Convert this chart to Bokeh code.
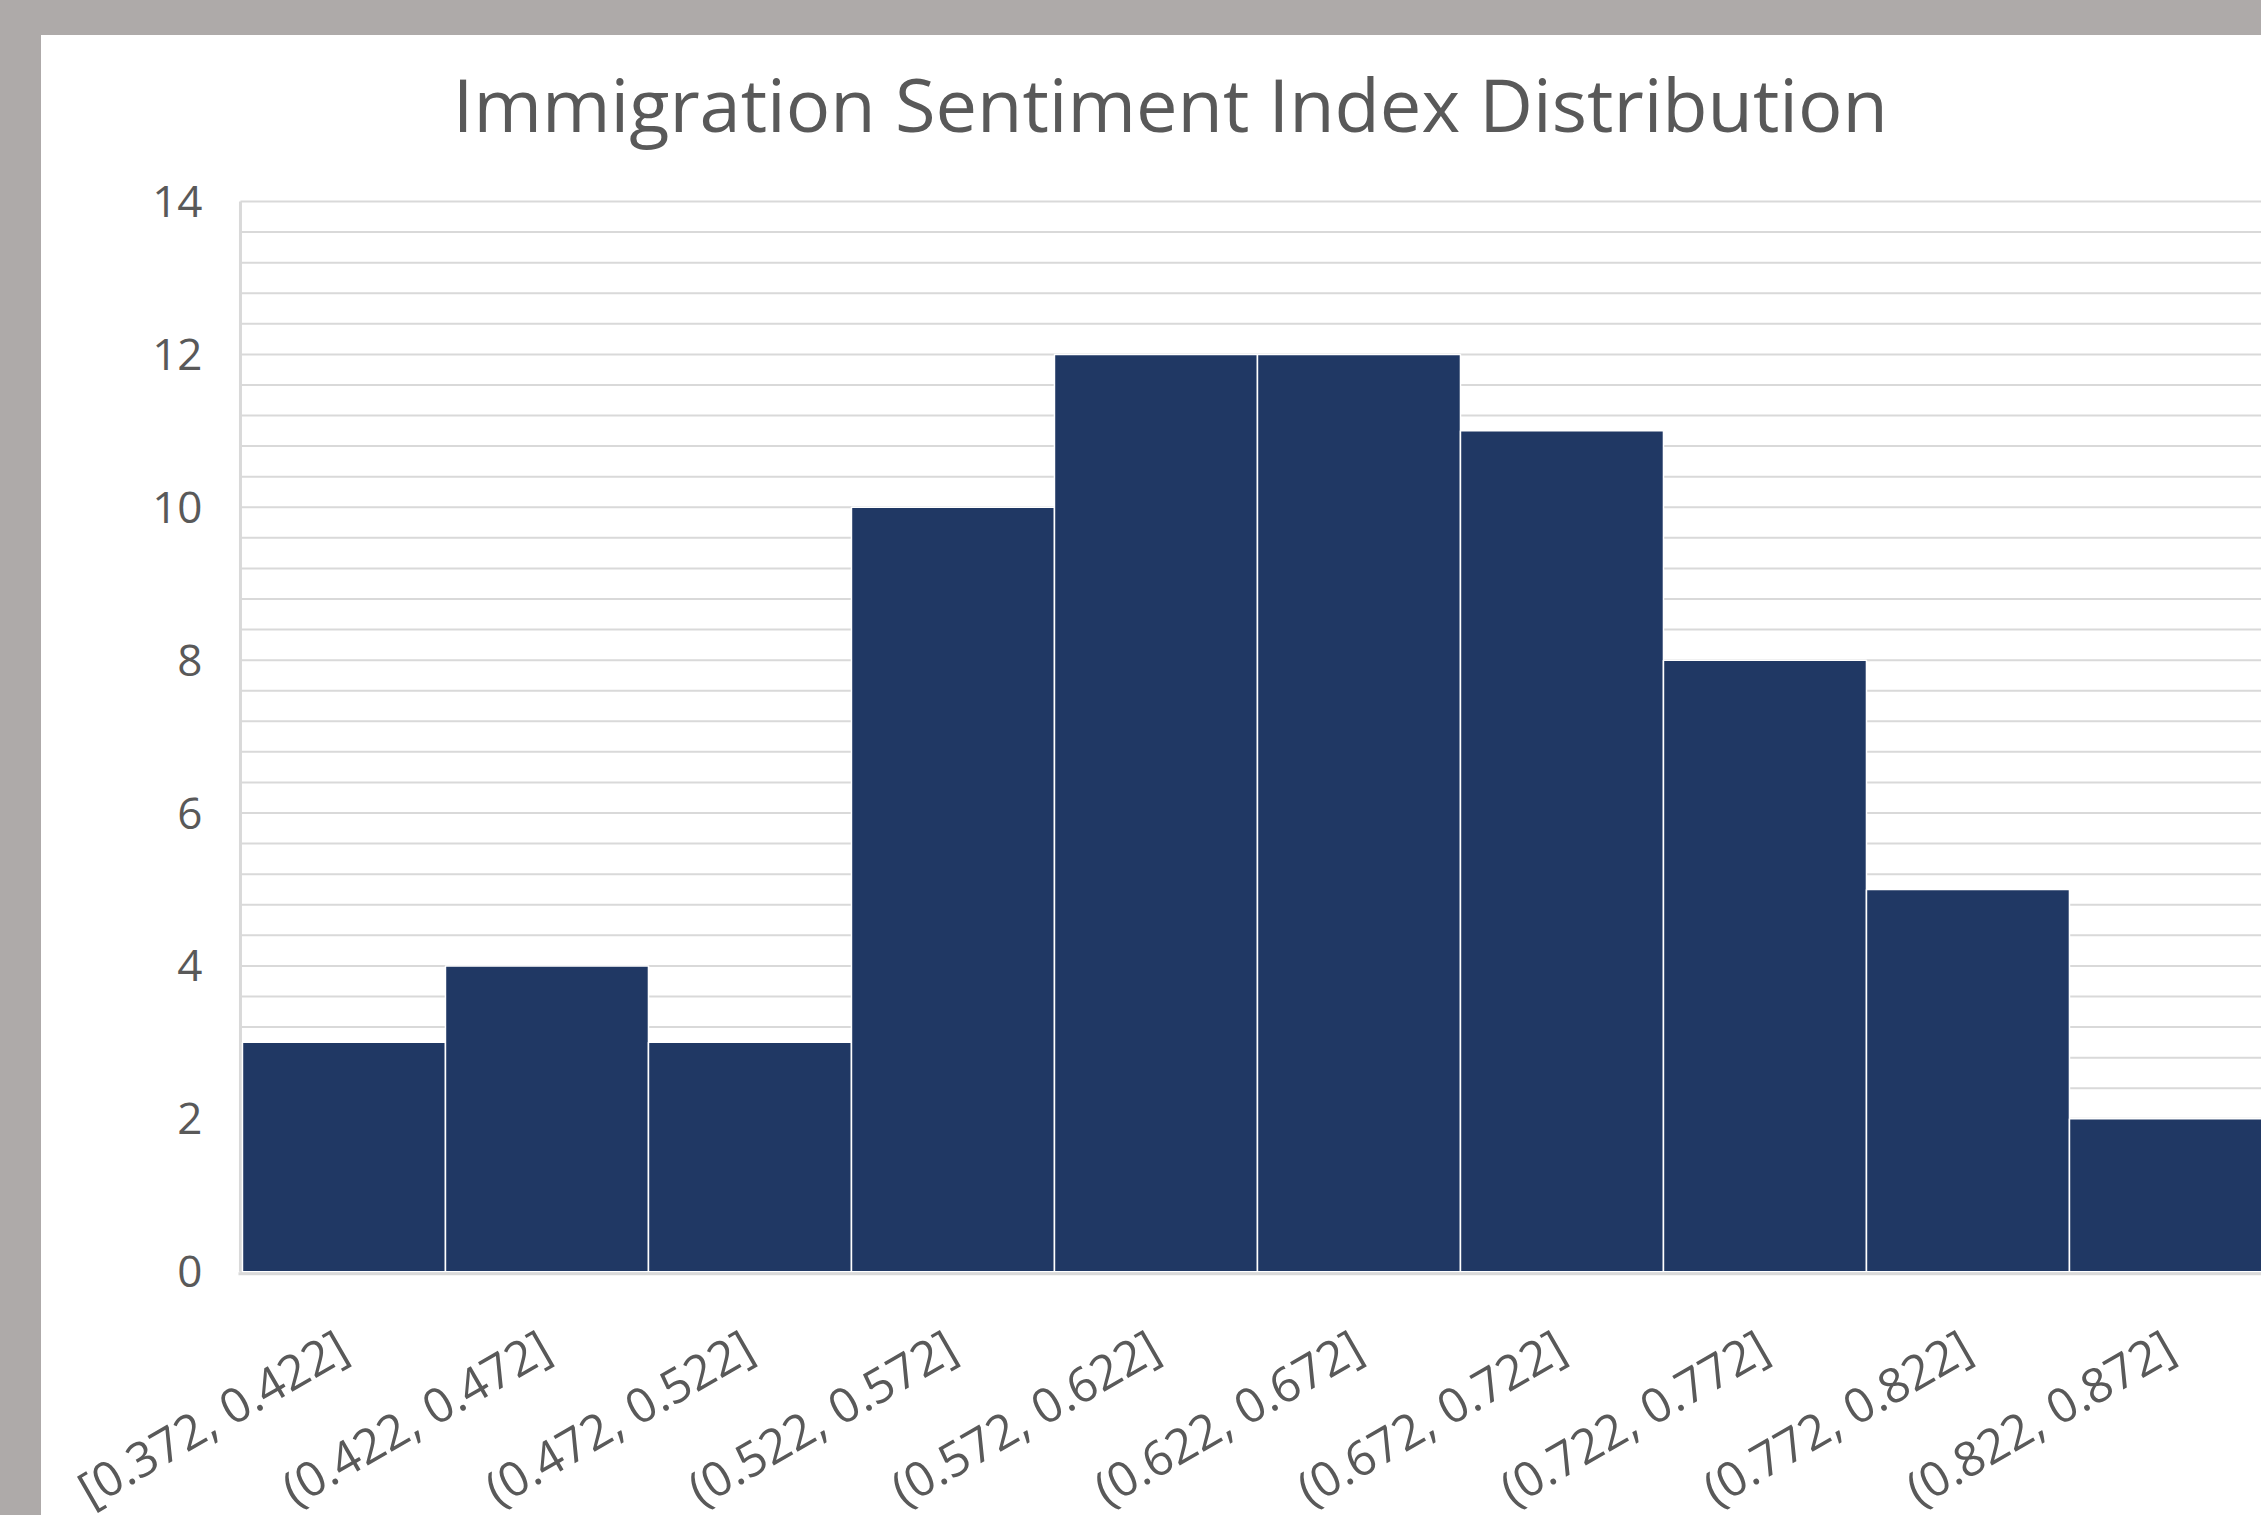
import math
from bokeh.plotting import figure
from bokeh.models import (ColumnDataSource, Range1d, GlobalInlineStyleSheet)
from bokeh.core.properties import value
from bokeh.embed import file_html
from bokeh.resources import INLINE

# ---- data ----
bins = ["[0.372, 0.422]", "(0.422, 0.472]", "(0.472, 0.522]", "(0.522, 0.572]",
        "(0.572, 0.622]", "(0.622, 0.672]", "(0.672, 0.722]", "(0.722, 0.772]",
        "(0.772, 0.822]", "(0.822, 0.872]"]
counts = [3, 4, 3, 10, 12, 12, 11, 8, 5, 2]
y_ticks = [0, 2, 4, 6, 8, 10, 12, 14]
y_minor = [round(k * 0.4, 1) for k in range(36)]
title_text = "Immigration Sentiment Index Distribution"

# layout positions (data units of the plot)
LABEL_Y = -0.548   # where the rotated bin labels hang, below the zero line
AXIS_X = -0.00985  # value-axis position, just left of the first bin
X_END = 9.946
TITLE_X = 4.571
TITLE_Y = 15.28

idx = list(range(len(bins)))
src = ColumnDataSource(dict(
    left=[i for i in idx],
    right=[i + 1 for i in idx],
    top=counts,
    bottom=[0] * len(counts),
))
lab_src = ColumnDataSource(dict(
    x=[i + 0.5 for i in idx],
    y=[LABEL_Y] * len(bins),
    text=bins,
))
ytick_src = ColumnDataSource(dict(
    x=[AXIS_X] * len(y_ticks),
    y=y_ticks,
    text=[str(t) for t in y_ticks],
))
grid_src = ColumnDataSource(dict(
    x0=[AXIS_X] * len(y_minor),
    x1=[X_END] * len(y_minor),
    y=y_minor,
))

TEXT = "#595959"
GRID = "#d9d9d9"
BAR = "#203864"

p = figure(width=2261, height=1515, output_backend="svg", toolbar_location=None,
           x_range=Range1d(-0.990, X_END), y_range=Range1d(-3.19, 16.6295),
           min_border_left=41, min_border_right=0, min_border_top=0,
           min_border_bottom=0)

p.stylesheets = [GlobalInlineStyleSheet(css="""
html { background-color: #ffffff;
       background-image: linear-gradient(#aeaaa9, #aeaaa9), linear-gradient(#aeaaa9, #aeaaa9);
       background-size: 100% 35px, 41px 100%;
       background-repeat: no-repeat; background-position: 0 0, 0 0; min-height: 100%; }
body { background: transparent; }
""")]

p.border_fill_alpha = 0
p.background_fill_alpha = 0
p.outline_line_color = None
p.xaxis.visible = False
p.yaxis.visible = False
p.xgrid.grid_line_color = None
p.ygrid.grid_line_color = None

# horizontal gridlines (major every 2, minor every 0.4)
p.segment(x0="x0", y0="y", x1="x1", y1="y", source=grid_src,
          line_color=GRID, line_width=2)

# left value-axis line
p.segment(x0=[AXIS_X], y0=[0], x1=[AXIS_X], y1=[max(y_ticks)],
          line_color=GRID, line_width=3)

# histogram bars
p.quad(left="left", right="right", top="top", bottom="bottom", source=src,
       fill_color=BAR, line_color="white", line_width=1.5)

# category-axis line
p.segment(x0=[-0.0197], y0=[-0.026], x1=[X_END], y1=[-0.026],
          line_color=GRID, line_width=3)

# value tick labels
p.text(x="x", y="y", text="text", source=ytick_src, x_offset=-38,
       text_align="right", text_baseline="middle", text_font=value("Open Sans"),
       text_font_size="44px", text_color=TEXT)

# bin labels
p.text(x="x", y="y", text="text", source=lab_src, angle=math.radians(30),
       x_offset=-18, text_align="right", text_baseline="top",
       text_font=value("Open Sans"), text_font_size="48px", text_color=TEXT)

# chart title
p.text(x=[TITLE_X], y=[TITLE_Y], text=[title_text], text_align="center",
       text_baseline="alphabetic", text_font=value("Open Sans"),
       text_font_size="74px", text_color=TEXT)

open("out.html", "w").write(file_html(p, INLINE))
